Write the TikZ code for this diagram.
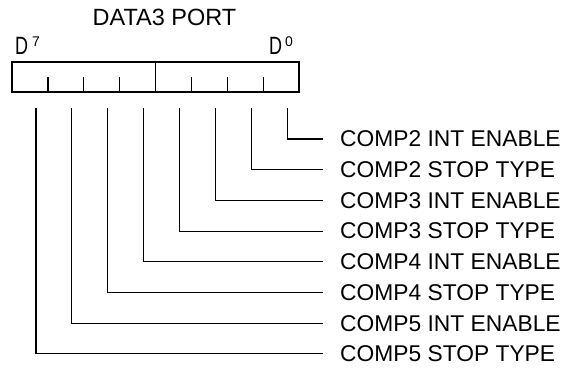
\documentclass[tikz,border=0pt]{standalone}
\usepackage{fontspec}
\setmainfont{Liberation Sans}
\usetikzlibrary{positioning,calc}

\begin{document}
\begin{tikzpicture}[
    x=1pt, y=-1pt,
    reg/.style={line width=1.2pt},
    lead/.style={line width=1.1pt},
    bitlabel/.style={anchor=west, inner sep=0pt, font=\fontsize{22.8}{24}\selectfont},
    title/.style={inner sep=0pt, font=\fontsize{23.5}{25}\selectfont},
    msb/.style={anchor=base west, inner sep=0pt, font=\fontsize{25}{27}\selectfont}
]
\useasboundingbox (0,0) rectangle (564,369);

% register
\node[title] (port) at (164.5,17.5) {DATA3 PORT};
\node[msb] (dhi) at (15,55) {\scalebox{0.72}[1]{D}\hspace{4pt}\raisebox{9pt}{\fontsize{14}{14}\selectfont 7}};
\node[msb] (dlo) at (269,55) {\scalebox{0.72}[1]{D}\hspace{3pt}\raisebox{9pt}{\fontsize{14}{14}\selectfont 0}};
\draw[reg] (12,62) rectangle (299,92);
\draw[reg] (155.5,62) -- (155.5,92);
\foreach \k in {1,2,3,5,6,7}
    \draw[reg] ({12+35.9*\k},77) -- ({12+35.9*\k},92);

% bit leads
\foreach \b/\txt in {0/COMP2 INT ENABLE, 1/COMP2 STOP TYPE, 2/COMP3 INT ENABLE, 3/COMP3 STOP TYPE,
                     4/COMP4 INT ENABLE, 5/COMP4 STOP TYPE, 6/COMP5 INT ENABLE, 7/COMP5 STOP TYPE} {
    \coordinate (t\b) at ({287.3-35.9*\b},108);
    \node[bitlabel] (l\b) at (340,{139+30.7*\b}) {\txt};
    \draw[lead] (t\b) |- ([xshift=-17pt]l\b.west);
}
\end{tikzpicture}
\end{document}
